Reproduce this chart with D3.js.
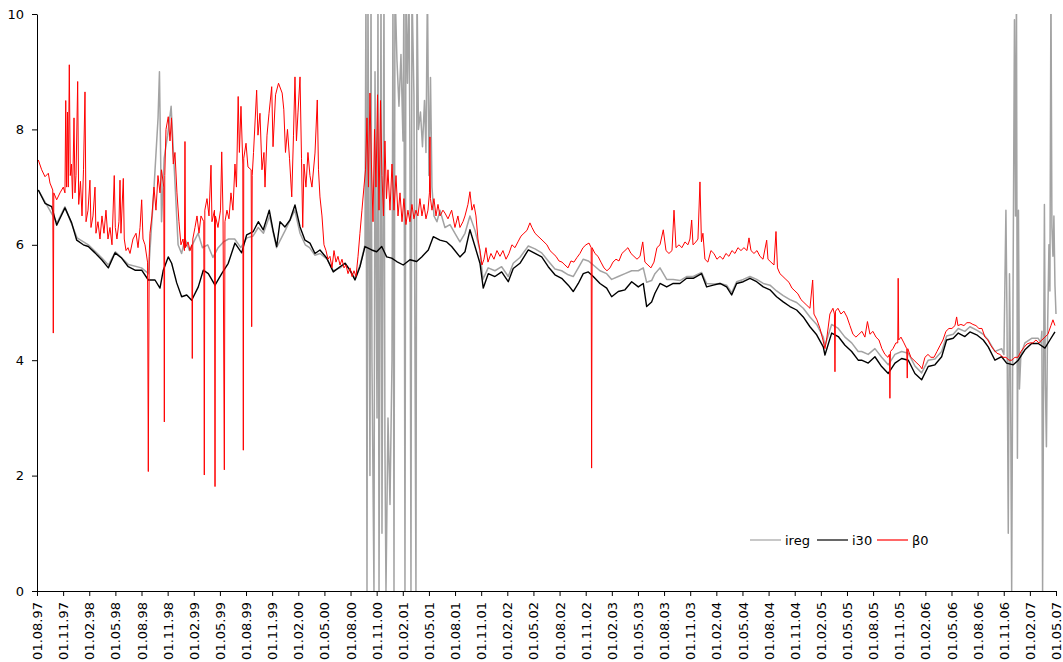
<!DOCTYPE html>
<html><head><meta charset="utf-8">
<script src="https://cdn.jsdelivr.net/npm/d3@7"></script>
<style>body{margin:0;background:#fff} text{font-family:"DejaVu Sans",sans-serif}</style>
</head><body><svg id="c" width="1063" height="662"></svg>
<script>
// x = months since 01.08.97, y = percent
const tickLabels = ["01.08.97","01.11.97","01.02.98","01.05.98","01.08.98","01.11.98","01.02.99","01.05.99","01.08.99","01.11.99","01.02.00","01.05.00","01.08.00","01.11.00","01.02.01","01.05.01","01.08.01","01.11.01","01.02.02","01.05.02","01.08.02","01.11.02","01.02.03","01.05.03","01.08.03","01.11.03","01.02.04","01.05.04","01.08.04","01.11.04","01.02.05","01.05.05","01.08.05","01.11.05","01.02.06","01.05.06","01.08.06","01.11.06","01.02.07","01.05.07"];
const yTicks = [0,2,4,6,8,10];
const seriesNames = ["ireg","i30","β0"];

const i30 = [[0.15,6.95],[0.92,6.72],[1.69,6.66],[2.26,6.34],[3.21,6.64],[3.98,6.38],[4.56,6.08],[5.32,6.0],[5.89,5.97],[6.66,5.86],[7.43,5.74],[8.19,5.6],[8.96,5.86],[9.72,5.77],[10.48,5.62],[11.25,5.56],[12.02,5.56],[12.78,5.39],[13.55,5.39],[14.12,5.25],[14.5,5.56],[15.07,5.79],[15.46,5.68],[16.04,5.34],[16.61,5.1],[17.19,5.13],[17.76,5.04],[18.52,5.27],[19.09,5.56],[19.67,5.5],[20.44,5.3],[21.21,5.5],[21.96,5.68],[22.73,6.03],[23.5,5.86],[24.07,6.17],[24.83,6.23],[25.41,6.4],[25.98,6.26],[26.67,6.6],[27.13,6.23],[27.52,5.97],[27.9,6.4],[28.47,6.31],[29.05,6.43],[29.62,6.69],[30.2,6.31],[30.77,6.08],[31.34,6.03],[31.92,5.85],[32.49,5.91],[33.26,5.77],[34.02,5.53],[34.79,5.62],[35.36,5.68],[35.94,5.56],[36.51,5.39],[37.08,5.62],[37.66,5.97],[38.43,5.91],[39.0,5.88],[39.58,5.97],[40.15,5.79],[40.72,5.77],[41.3,5.71],[42.05,5.65],[42.82,5.74],[43.59,5.71],[44.17,5.79],[44.93,5.91],[45.5,6.14],[46.27,6.08],[47.04,6.05],[47.61,5.97],[48.56,5.79],[49.14,5.88],[49.71,6.26],[50.29,5.97],[50.86,5.68],[51.24,5.25],[51.81,5.5],[52.58,5.45],[53.35,5.53],[54.11,5.36],[54.68,5.59],[55.45,5.68],[56.41,5.91],[57.18,5.85],[57.95,5.79],[58.7,5.62],[59.47,5.48],[60.24,5.42],[61.0,5.3],[61.57,5.19],[62.15,5.33],[62.72,5.5],[63.3,5.53],[63.87,5.45],[64.64,5.33],[65.41,5.25],[65.98,5.1],[66.74,5.19],[67.51,5.22],[68.28,5.36],[69.04,5.27],[69.61,5.33],[70.0,4.93],[70.57,5.01],[70.95,5.16],[71.53,5.33],[72.3,5.27],[73.05,5.33],[73.82,5.33],[74.59,5.42],[75.35,5.42],[76.31,5.5],[76.89,5.27],[77.65,5.3],[78.42,5.33],[79.18,5.27],[79.76,5.13],[80.33,5.33],[81.09,5.36],[81.86,5.42],[82.63,5.36],[83.39,5.27],[84.16,5.22],[84.92,5.1],[85.68,5.01],[86.45,4.93],[87.22,4.87],[87.98,4.75],[88.75,4.58],[89.52,4.44],[90.28,4.23],[90.47,4.09],[91.24,4.47],[92.0,4.41],[92.77,4.26],[93.54,4.15],[94.29,4.0],[94.68,4.0],[95.44,3.95],[96.21,4.06],[96.98,3.89],[97.74,3.77],[98.51,3.95],[99.28,4.03],[100.04,4.0],[100.8,3.77],[101.57,3.66],[102.33,3.89],[103.1,3.92],[103.87,4.06],[104.44,4.35],[105.2,4.38],[105.78,4.47],[106.54,4.41],[107.12,4.49],[107.89,4.44],[108.65,4.35],[109.22,4.23],[109.99,4.0],[110.76,4.06],[111.33,3.95],[112.09,3.92],[112.67,4.0],[113.43,4.18],[114.2,4.29],[114.96,4.29],[115.73,4.21],[116.3,4.35],[116.88,4.49]];

const ireg = [[0.15,6.95],[0.9,6.75],[2.3,6.38],[3.2,6.66],[4.6,6.12],[5.9,6.0],[7.4,5.78],[8.2,5.65],[9.0,5.88],[10.5,5.66],[12.0,5.6],[12.8,5.5],[13.4,6.9],[13.9,8.2],[14.06,9.0],[14.3,6.4],[14.6,7.5],[15.0,7.9],[15.4,8.4],[15.8,7.2],[16.2,6.0],[16.6,5.85],[17.0,6.1],[17.5,5.9],[18.0,6.05],[18.5,6.2],[19.0,5.95],[19.6,6.0],[20.2,5.78],[20.8,5.95],[21.4,6.05],[22.0,6.1],[22.7,6.1],[23.4,5.95],[24.1,6.12],[24.8,6.15],[25.4,6.3],[26.0,6.2],[26.7,6.5],[27.5,5.95],[28.5,6.25],[29.6,6.6],[30.2,6.2],[30.8,6.0],[31.3,5.95],[31.9,5.82],[32.5,5.85],[33.3,5.75],[34.0,5.55],[34.8,5.6],[35.4,5.68],[35.9,5.56],[36.5,5.42],[37.1,5.65],[37.66,6.0],[37.77,10.5],[37.89,0],[38.0,10.5],[38.23,2.0],[38.35,10.5],[38.46,4.0],[38.69,0],[38.81,9.0],[39.04,3.0],[39.15,10.5],[39.27,0],[39.5,10.5],[39.61,1.0],[39.84,10.5],[39.95,2.5],[40.07,0],[40.3,3.0],[40.53,1.5],[40.76,4.0],[40.87,10.5],[40.99,0],[41.1,10.5],[41.33,9.2],[41.56,8.4],[41.79,9.3],[42.02,7.8],[42.13,10.5],[42.25,0],[42.36,10.5],[42.54,8.8],[42.71,10.5],[42.82,7.6],[42.94,0],[43.05,10.5],[43.28,8.6],[43.51,0],[43.63,10.5],[43.8,8.0],[44.03,8.3],[44.26,7.7],[44.49,8.5],[44.66,7.6],[44.83,10.5],[45.0,7.2],[45.18,8.9],[45.35,7.0],[45.58,6.5],[45.92,6.4],[46.27,6.6],[46.84,6.3],[47.42,6.35],[47.99,6.2],[48.56,6.05],[49.14,6.2],[49.71,6.5],[50.29,6.25],[50.86,5.9],[51.2,5.4],[51.8,5.6],[52.58,5.55],[53.35,5.62],[54.11,5.45],[54.68,5.68],[55.45,5.78],[56.41,5.98],[57.18,5.93],[57.95,5.86],[58.7,5.72],[59.47,5.58],[60.24,5.55],[61.0,5.48],[61.57,5.45],[62.15,5.6],[62.72,5.75],[63.3,5.72],[63.87,5.65],[64.64,5.55],[65.41,5.5],[65.98,5.4],[66.74,5.45],[67.51,5.5],[68.28,5.55],[69.04,5.55],[69.61,5.6],[70.0,5.35],[70.57,5.38],[70.95,5.5],[71.53,5.6],[72.3,5.4],[73.05,5.4],[73.82,5.38],[74.59,5.45],[75.35,5.45],[76.31,5.52],[76.89,5.33],[77.65,5.32],[78.42,5.33],[79.18,5.3],[79.76,5.17],[80.33,5.36],[81.09,5.4],[81.86,5.45],[82.63,5.4],[83.39,5.33],[84.16,5.3],[84.92,5.2],[85.68,5.12],[86.45,5.05],[87.22,5.0],[87.98,4.9],[88.75,4.75],[89.52,4.62],[90.28,4.4],[90.47,4.25],[91.24,4.62],[92.0,4.55],[92.77,4.4],[93.54,4.3],[94.29,4.15],[94.68,4.15],[95.44,4.1],[96.21,4.2],[96.98,4.05],[97.74,3.92],[98.51,4.1],[99.28,4.15],[100.04,4.12],[100.8,3.9],[101.57,3.78],[102.33,4.0],[103.1,4.02],[103.87,4.15],[104.44,4.42],[105.2,4.45],[105.78,4.55],[106.54,4.5],[107.12,4.58],[107.89,4.52],[108.65,4.45],[109.22,4.35],[109.99,4.15],[110.76,4.2],[111.02,4.1],[111.25,6.6],[111.37,4.8],[111.52,1.0],[111.66,5.5],[111.77,4.0],[111.91,0],[112.06,5.0],[112.23,9.9],[112.35,6.5],[112.46,10.5],[112.57,2.3],[112.69,6.6],[112.8,3.5],[112.97,4.1],[113.43,4.3],[114.2,4.38],[114.96,4.38],[115.27,4.3],[115.38,4.5],[115.46,0],[115.55,2.8],[115.67,6.7],[115.78,3.6],[115.9,2.5],[116.02,4.4],[116.19,6.0],[116.3,5.2],[116.42,10.5],[116.53,6.3],[116.65,5.8],[116.76,6.5],[116.88,5.3],[117.0,4.8]];

const beta0 = [[0.15,7.47],[0.54,7.3],[0.92,7.18],[1.3,7.24],[1.49,7.07],[1.81,6.95],[1.87,4.47],[1.93,6.9],[2.26,6.78],[2.64,6.9],[3.02,7.0],[3.21,6.9],[3.3,8.5],[3.39,7.0],[3.5,8.3],[3.59,7.0],[3.71,9.12],[3.82,7.2],[3.96,7.4],[4.08,6.8],[4.25,8.2],[4.36,6.9],[4.48,7.2],[4.67,8.83],[4.79,6.7],[4.99,7.1],[5.17,6.5],[5.34,7.3],[5.51,8.65],[5.63,6.4],[5.86,6.6],[6.08,7.12],[6.2,6.3],[6.43,6.5],[6.66,7.0],[6.77,6.2],[7.0,6.4],[7.23,6.1],[7.46,6.5],[7.69,6.2],[7.92,6.6],[8.15,6.1],[8.38,6.3],[8.61,6.0],[8.87,7.2],[8.99,6.3],[9.18,6.1],[9.41,6.4],[9.53,7.12],[9.64,6.2],[9.91,7.15],[10.02,6.1],[10.22,5.9],[10.45,5.95],[10.68,5.85],[11.02,6.1],[11.37,6.2],[11.6,5.95],[11.83,6.3],[12.02,6.78],[12.17,6.1],[12.4,6.0],[12.69,5.7],[12.78,2.07],[12.88,5.8],[12.97,6.2],[13.2,6.5],[13.43,7.0],[13.66,6.6],[13.89,7.2],[14.12,6.9],[14.29,7.3],[14.56,7.0],[14.62,2.93],[14.67,7.2],[14.81,8.0],[15.07,8.22],[15.27,7.8],[15.44,8.2],[15.65,7.4],[15.84,7.6],[16.07,6.9],[16.3,6.4],[16.53,6.0],[16.76,6.1],[16.93,5.9],[16.99,7.79],[17.05,5.95],[17.34,6.05],[17.57,5.9],[17.77,6.0],[17.83,4.03],[17.89,6.1],[18.14,6.3],[18.37,6.5],[18.6,6.2],[18.83,6.5],[19.15,6.4],[19.21,2.01],[19.27,6.6],[19.52,6.8],[19.75,6.5],[19.98,7.38],[20.09,6.4],[20.38,6.6],[20.44,1.81],[20.49,6.5],[20.78,6.3],[21.07,6.6],[21.21,7.61],[21.36,6.5],[21.51,2.1],[21.58,6.4],[21.81,6.6],[22.04,6.45],[22.27,6.9],[22.5,6.6],[22.73,7.4],[22.9,7.0],[23.1,8.57],[23.24,7.6],[23.42,8.4],[23.63,7.4],[23.69,2.44],[23.74,7.5],[24.0,7.76],[24.22,7.35],[24.59,7.3],[24.65,4.58],[24.71,7.2],[24.86,7.6],[25.22,8.68],[25.37,7.9],[25.6,8.28],[25.83,7.3],[26.06,7.6],[26.18,7.0],[26.41,7.9],[26.64,8.28],[26.95,8.74],[27.1,7.7],[27.39,8.6],[27.73,8.8],[28.15,8.63],[28.34,8.34],[28.53,7.6],[28.76,8.0],[28.99,7.5],[29.25,6.83],[29.45,7.9],[29.62,8.91],[29.79,7.8],[29.97,8.3],[30.2,8.91],[30.37,7.5],[30.51,6.3],[30.65,7.4],[30.88,7.0],[31.11,7.6],[31.34,7.2],[31.57,7.0],[31.92,7.59],[32.18,8.51],[32.32,7.3],[32.49,6.83],[32.72,6.5],[32.95,6.0],[33.18,5.9],[33.41,5.75],[33.64,5.8],[33.87,5.6],[34.1,5.9],[34.33,5.7],[34.56,5.8],[34.79,5.65],[35.02,5.75],[35.25,5.6],[35.48,5.65],[35.71,5.5],[35.94,5.6],[36.17,5.45],[36.4,5.55],[36.63,5.45],[36.86,5.8],[37.08,6.2],[37.31,6.6],[37.54,7.0],[37.72,7.3],[37.89,8.2],[38.06,7.0],[38.23,8.63],[38.4,7.4],[38.58,6.4],[38.75,8.0],[38.92,7.0],[39.1,8.6],[39.27,6.6],[39.44,8.5],[39.61,7.2],[39.78,6.5],[39.95,7.8],[40.13,6.8],[40.3,7.3],[40.53,6.6],[40.76,7.4],[40.99,6.6],[41.22,7.2],[41.45,6.5],[41.68,6.9],[41.91,6.4],[42.13,6.8],[42.36,6.35],[42.59,6.6],[42.82,6.4],[43.05,6.7],[43.28,6.45],[43.51,6.6],[43.74,6.5],[43.97,6.8],[44.2,6.5],[44.43,6.7],[44.66,6.45],[44.89,6.6],[45.06,6.9],[45.12,7.87],[45.18,6.8],[45.35,6.6],[45.58,6.8],[45.81,6.5],[46.04,6.7],[46.27,6.5],[46.61,6.6],[46.84,6.55],[47.19,6.45],[47.61,6.6],[47.99,6.3],[48.33,6.5],[48.56,6.3],[48.91,6.4],[49.14,6.5],[49.48,6.7],[49.71,6.92],[49.94,6.6],[50.17,6.7],[50.4,6.5],[50.63,6.1],[50.86,5.9],[51.09,5.65],[51.32,5.75],[51.55,5.95],[51.78,5.7],[52.12,5.85],[52.47,5.75],[52.81,5.9],[53.16,5.8],[53.5,5.9],[53.85,5.75],[54.19,5.85],[54.53,6.0],[54.88,5.95],[55.22,6.05],[55.57,6.15],[55.91,6.2],[56.26,6.25],[56.6,6.38],[56.83,6.3],[57.18,6.2],[57.52,6.15],[57.87,6.1],[58.21,6.05],[58.55,6.0],[58.9,5.9],[59.24,5.85],[59.59,5.8],[59.93,5.72],[60.28,5.7],[60.62,5.65],[60.97,5.6],[61.31,5.72],[61.65,5.7],[62.0,5.78],[62.34,5.85],[62.69,5.95],[63.03,6.0],[63.38,6.03],[63.63,5.95],[63.68,2.13],[63.74,5.95],[64.06,5.85],[64.41,5.8],[64.75,5.7],[65.1,5.6],[65.44,5.55],[65.79,5.6],[66.13,5.7],[66.48,5.75],[66.82,5.72],[67.16,5.85],[67.51,5.9],[67.85,5.95],[68.2,5.85],[68.54,5.8],[68.89,5.75],[69.24,5.8],[69.55,6.05],[69.8,5.7],[70.15,5.65],[70.49,5.6],[70.84,5.7],[71.18,5.95],[71.53,6.0],[71.91,6.26],[72.22,5.9],[72.56,5.85],[72.91,5.9],[73.14,6.6],[73.37,5.95],[73.71,6.0],[74.05,5.95],[74.4,6.05],[74.74,6.0],[74.97,6.1],[75.17,6.43],[75.32,6.0],[75.66,6.05],[75.89,6.1],[76.12,7.09],[76.29,6.05],[76.46,6.2],[76.69,5.75],[77.03,5.7],[77.38,5.9],[77.72,5.85],[78.07,5.75],[78.42,5.8],[78.76,5.75],[79.1,5.85],[79.45,5.8],[79.79,5.9],[80.14,5.85],[80.48,5.95],[80.83,5.9],[81.17,5.95],[81.52,5.9],[81.75,6.12],[81.98,5.9],[82.32,5.85],[82.67,5.9],[83.01,5.8],[83.36,5.75],[83.78,6.08],[83.93,5.75],[84.27,5.7],[84.62,5.65],[84.85,6.23],[85.02,5.6],[85.3,5.5],[85.65,5.45],[85.99,5.4],[86.34,5.35],[86.68,5.25],[87.03,5.2],[87.37,5.15],[87.72,5.05],[88.06,5.0],[88.4,4.95],[88.75,4.9],[89.06,5.39],[89.21,4.8],[89.55,4.7],[89.9,4.55],[90.24,4.35],[90.47,4.2],[90.7,4.4],[91.04,4.8],[91.39,4.9],[91.56,4.8],[91.62,3.8],[91.68,4.85],[91.96,4.9],[92.31,4.8],[92.65,4.85],[93.0,4.75],[93.34,4.6],[93.69,4.45],[94.03,4.4],[94.37,4.45],[94.72,4.5],[95.06,4.4],[95.35,4.67],[95.64,4.45],[95.98,4.5],[96.33,4.4],[96.67,4.35],[97.01,4.2],[97.36,4.1],[97.7,4.05],[97.87,4.1],[97.93,3.34],[97.99,4.15],[98.28,4.2],[98.62,4.3],[98.83,4.3],[98.88,5.42],[98.94,4.35],[99.2,4.4],[99.54,4.3],[99.86,4.2],[99.92,3.69],[99.98,4.2],[100.34,4.05],[100.69,4.0],[101.03,3.95],[101.38,3.9],[101.61,3.85],[101.95,4.05],[102.3,4.1],[102.64,4.05],[102.99,4.05],[103.33,4.15],[103.67,4.25],[104.02,4.35],[104.36,4.5],[104.71,4.55],[105.05,4.55],[105.4,4.6],[105.59,4.75],[105.74,4.6],[106.08,4.62],[106.43,4.6],[106.77,4.65],[107.12,4.65],[107.46,4.62],[107.81,4.6],[108.15,4.55],[108.5,4.55],[108.84,4.4],[109.18,4.35],[109.53,4.25],[109.87,4.18],[110.22,4.12],[110.56,4.1],[110.91,4.05],[111.25,4.05],[111.6,4.0],[111.94,4.0],[112.28,4.05],[112.63,4.05],[112.97,4.15],[113.32,4.22],[113.66,4.28],[114.01,4.3],[114.35,4.3],[114.7,4.35],[115.04,4.3],[115.38,4.35],[115.73,4.4],[116.07,4.45],[116.42,4.6],[116.65,4.7],[116.88,4.6]];

const W = 1063, H = 662;
const m = {left: 37, right: 1056, top: 14, bottom: 591};
const svg = d3.select("#c");
const x = d3.scaleLinear().domain([0, 117]).range([m.left, m.right]);
const y = d3.scaleLinear().domain([0, 10]).range([m.bottom, m.top]);

svg.append("defs").append("clipPath").attr("id","clip")
  .append("rect").attr("x", m.left).attr("y", m.top).attr("width", W - m.left).attr("height", m.bottom - m.top);

const line = d3.line().x(d => x(d[0])).y(d => y(d[1]));
const series = [
  {name: seriesNames[0], data: ireg, color: "#a3a3a3", w: 1.5},
  {name: seriesNames[1], data: i30, color: "#000000", w: 1.4},
  {name: seriesNames[2], data: beta0, color: "#ff0000", w: 1}
];
const g = svg.append("g").attr("clip-path", "url(#clip)");
series.forEach(s => {
  g.append("path").datum(s.data).attr("d", line)
    .attr("fill", "none").attr("stroke", s.color).attr("stroke-width", s.w)
    .attr("stroke-linejoin", "round");
});

// y axis
const ya = svg.append("g").attr("transform", `translate(${m.left},0)`)
  .call(d3.axisLeft(y).tickValues(yTicks).tickSize(5).tickSizeOuter(0).tickPadding(8).tickFormat(d3.format("d")));
ya.selectAll("text").attr("font-size", 13).attr("font-family", "DejaVu Sans").attr("fill", "#000");
ya.select(".domain").attr("stroke", "#000");

// x axis
const xa = svg.append("g").attr("transform", `translate(0,${m.bottom})`)
  .call(d3.axisBottom(x).tickValues(d3.range(0, 118, 3)).tickSize(5).tickSizeOuter(0)
    .tickFormat((d, i) => tickLabels[i]));
xa.select(".domain").attr("stroke", "#000");
xa.selectAll("text").attr("font-size", 13).attr("font-family", "DejaVu Sans").attr("fill", "#000")
  .attr("text-anchor", "end").attr("transform", "rotate(-90)")
  .attr("x", -11).attr("y", 0).attr("dy", "0.35em");

// legend
const lg = svg.append("g");
const legX = [750, 817, 877];
series.forEach((s, i) => {
  lg.append("line").attr("x1", legX[i]).attr("x2", legX[i] + 31).attr("y1", 540).attr("y2", 540)
    .attr("stroke", s.color).attr("stroke-width", 1.2);
  lg.append("text").attr("x", legX[i] + 35).attr("y", 545).attr("font-size", 13).text(s.name);
});
</script></body></html>
